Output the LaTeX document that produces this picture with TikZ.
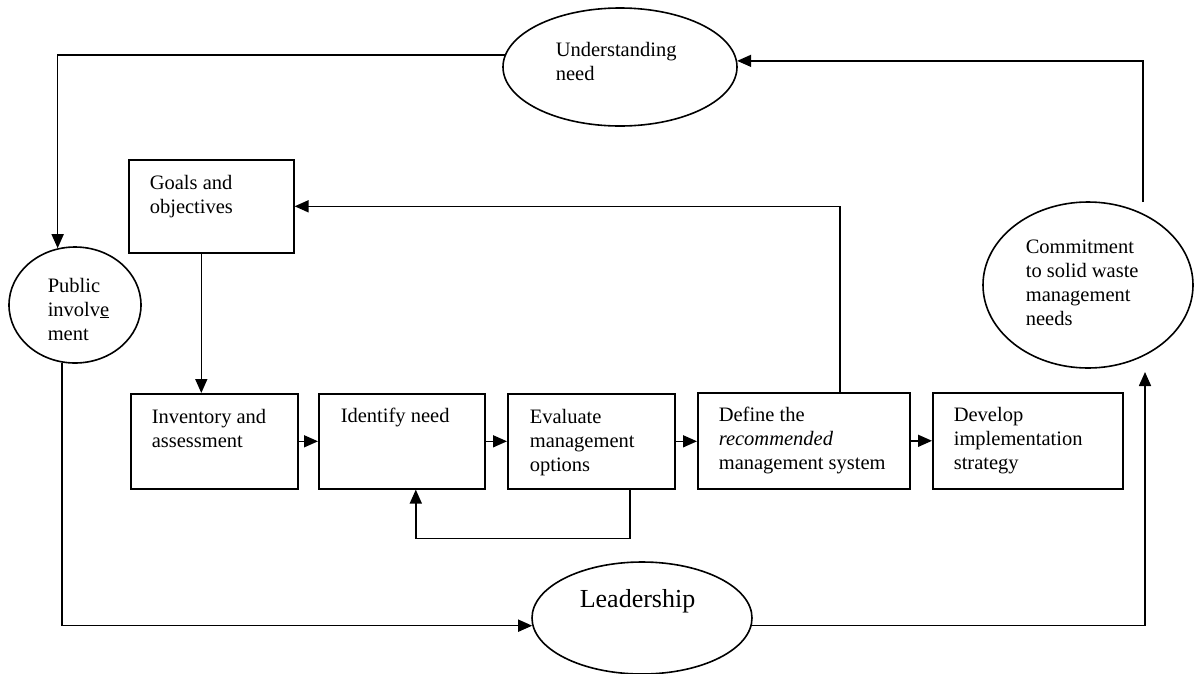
\documentclass[tikz,border=0pt]{standalone}
\usepackage{fontspec}
\setmainfont{Liberation Serif}
\usetikzlibrary{arrows.meta,shapes.geometric}
\newcommand\mylines[1]{\vtop{\baselineskip=24pt\lineskiplimit=-10pt\halign{##\hfil\cr#1\crcr}}}
\begin{document}
\begin{tikzpicture}[x=1pt,y=-1pt,
  line width=1.6pt,
  arr/.style={-{Triangle[length=14pt,width=12pt]}},
  boxnode/.style={draw, rectangle, inner sep=0pt, anchor=north west},
  ovalnode/.style={draw, ellipse, inner sep=0pt},
  txt/.style={anchor=base west, inner sep=0pt, font=\fontsize{20.5}{24}\selectfont},
]
\useasboundingbox[fill=white] (0,0) rectangle (1197,673);

% ellipses
\node[ovalnode, minimum width=234pt, minimum height=118pt] (und) at (620,67) {};
\node[ovalnode, minimum width=132pt, minimum height=116pt] (pub) at (75,305) {};
\node[ovalnode, minimum width=210pt, minimum height=166pt] (commit) at (1088,285) {};
\node[ovalnode, minimum width=220pt, minimum height=112pt] (lead) at (642,618) {};

% boxes
\node[boxnode, minimum width=165pt, minimum height=93pt] (goals) at (128,159) {};
\node[boxnode, minimum width=167pt, minimum height=95pt] (inv) at (130,393) {};
\node[boxnode, minimum width=166pt, minimum height=95pt] (ident) at (318,393) {};
\node[boxnode, minimum width=167pt, minimum height=95pt] (eval) at (507,393) {};
\node[boxnode, minimum width=212pt, minimum height=96pt] (define) at (697,392) {};
\node[boxnode, minimum width=190pt, minimum height=96pt] (develop) at (932,392) {};

% texts
\node[txt] (t-und) at (555,56) {\mylines{Understanding\cr need}};
\node[txt] (t-pub) at (47,292) {\mylines{Public\cr involv\underline{e}\cr ment}};
\node[txt] (t-commit) at (1025,253) {\mylines{Commitment\cr to solid waste\cr management\cr needs}};
\node[txt, font=\fontsize{26}{30}\selectfont] (t-lead) at (579,607) {Leadership};
\node[txt] (t-goals) at (149,189) {\mylines{Goals and\cr objectives}};
\node[txt] (t-inv) at (151,423) {\mylines{Inventory and\cr assessment}};
\node[txt] (t-ident) at (340,422) {Identify need};
\node[txt] (t-eval) at (529,423) {\mylines{Evaluate\cr management\cr options}};
\node[txt] (t-define) at (718,421) {\mylines{Define the\cr \textit{recommended}\cr management system}};
\node[txt] (t-develop) at (953,421) {\mylines{Develop\cr implementation\cr strategy}};

% free ends near the commitment ellipse
\coordinate (ctop) at (1143,202);
\coordinate (cbot) at (1145,372);

% outer loop
\draw[arr] (und.174) -| (pub.107);
\draw[arr] (pub.-103) |- (lead.184);
\draw[arr] (lead.-4) -| (cbot);
\draw[arr] (ctop) |- (und.3);

% inner flow
\draw[arr] ([xshift=-10pt]goals.south) -- ([xshift=-10pt]goals.south |- inv.north);
\draw[arr] (inv.east) -- (ident.west);
\draw[arr] (ident.east) -- (eval.west);
\draw[arr] (eval.east) -- (define.west |- eval.east);
\draw[arr] (define.east) -- (develop.west);
\draw[arr] ([xshift=36pt]define.north) |- (goals.east);
\draw[arr] ([xshift=38.5pt]eval.south) -- ++(0,49) -| ([xshift=14pt]ident.south);
\end{tikzpicture}
\end{document}
